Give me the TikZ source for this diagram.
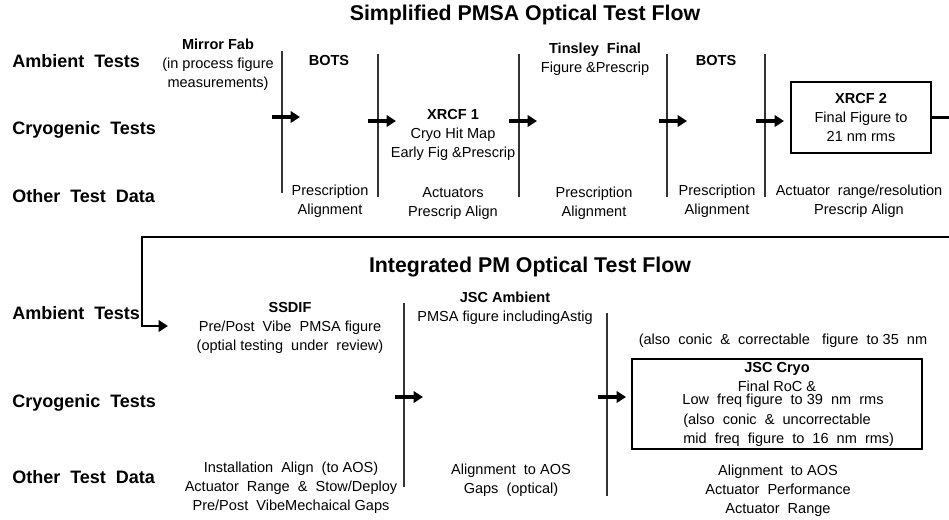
\documentclass[tikz,border=0pt]{standalone}
\usepackage{fontspec}
\setmainfont{Liberation Sans}
\usetikzlibrary{positioning, arrows.meta}

\tikzset{
  flowtitle/.style={inner sep=0pt, font=\fontsize{16}{19}\selectfont\bfseries},
  rowlabel/.style={anchor=west, inner sep=0pt, font=\fontsize{13.5}{16}\selectfont\bfseries},
  stepinfo/.style={align=center, inner sep=0pt, font=\fontsize{10.9}{14.2}\selectfont},
  divider/.style={black!80, line width=0.8pt},
  flowarrow/.style={-{Triangle[length=7pt,width=8.5pt]}, line width=2.9pt},
  wrapline/.style={flowarrow, line width=2.2pt},
  stagebox/.style={draw, line width=1.5pt, inner sep=0pt},
}

\begin{document}
\begin{tikzpicture}[x=0.75pt, y=-0.75pt]
\useasboundingbox (0,0) rectangle (949,519);

% simplified PMSA flow
\node[flowtitle] (title1) at (525,15) {Simplified PMSA Optical Test Flow};

\node[rowlabel] (amb1) at (12,61) {Ambient~~Tests};
\node[rowlabel] (cryo1) at (12,130) {Cryogenic~~Tests};
\node[rowlabel] (other1) at (12,196) {Other~~Test~~Data};

\draw[divider] (282,51) -- (282,193);
\draw[divider] (378,54) -- (378,197);
\draw[divider] (519,54) -- (519,197);
\draw[divider] (667,54) -- (667,197);
\draw[divider] (765,54) -- (765,197);

\node[stepinfo] (mirrorfab) at (218,65) {\textbf{Mirror Fab}\\(in process figure\\measurements)};
\node[stepinfo] (bots1) at (329,60) {\textbf{BOTS}};
\node[stepinfo] (xrcf1) at (453,135) {\textbf{XRCF 1}\\Cryo Hit Map\\Early Fig \&Prescrip};
\node[stepinfo] (tinsley) at (595,59.5) {\textbf{Tinsley~~Final}\\Figure \&Prescrip};
\node[stepinfo] (bots2) at (716,60) {\textbf{BOTS}};
\node[stagebox, stepinfo, minimum width=105pt, minimum height=53pt] (xrcf2) at (861,117.5)
  {\textbf{XRCF 2}\\Final Figure to\\21 nm rms};

\node[stepinfo] (presc1) at (330,201.5) {Prescription\\Alignment};
\node[stepinfo] (actuators) at (453,203.5) {Actuators\\Prescrip Align};
\node[stepinfo] (presc2) at (594,203) {Prescription\\Alignment};
\node[stepinfo] (presc3) at (717,201.5) {Prescription\\Alignment};
\node[stepinfo] (actrange) at (859,201.5) {Actuator~~range/resolution\\Prescrip Align};

\coordinate (a1s) at (272,117);
\coordinate (a1e) at (300,117);
\coordinate (a2s) at (368,121);
\coordinate (a2e) at (396,121);
\coordinate (a3s) at (509,121);
\coordinate (a3e) at (537,121);
\coordinate (a4s) at (659,121);
\coordinate (a4e) at (687,121);
\coordinate (a5s) at (756,121);
\coordinate (a5e) at (784,121);
\draw[flowarrow] (a1s) -- (a1e);
\draw[flowarrow] (a2s) -- (a2e);
\draw[flowarrow] (a3s) -- (a3e);
\draw[flowarrow] (a4s) -- (a4e);
\draw[flowarrow] (a5s) -- (a5e);

% link to the integrated flow
\coordinate (wrapR1) at (956,117.5);
\coordinate (wrapR2) at (956,237);
\coordinate (wrapL) at (142,237);
\coordinate (ssdifin) at (142,326);
\coordinate (ssdifend) at (168,326);
\draw[wrapline] (xrcf2.east) -- (wrapR1) -- (wrapR2) -- (wrapL) -- (ssdifin) -- (ssdifend);

% integrated PM flow
\node[flowtitle] (title2) at (530,267) {Integrated PM Optical Test Flow};

\node[rowlabel] (amb2) at (12,313) {Ambient~~Tests};
\node[rowlabel] (cryo2) at (12,403) {Cryogenic~~Tests};
\node[rowlabel] (other2) at (12,477) {Other~~Test~~Data};

\draw[divider] (404,303) -- (404,487);
\draw[divider] (607,313) -- (607,496);

\node[stepinfo] (ssdif) at (290,328) {\textbf{SSDIF}\\Pre/Post~~Vibe~~PMSA figure\\(optial testing~~under~~review)};
\node[stepinfo] (jscamb) at (505,308.5) {\textbf{JSC Ambient}\\PMSA figure includingAstig};
\node[stepinfo] (also35) at (783,341) {(also~~conic~~\&~~correctable~~~figure~~to 35~~nm};

\node[stagebox, minimum width=217.5pt, minimum height=67.5pt] (jsccryo) at (777,404) {};
\node[stepinfo] (cryohead) at (777,377) {\textbf{JSC Cryo}\\Final RoC \&};
\node[stepinfo] (lowfreq) at (783,401) {Low~~freq figure~~to 39~~nm~~rms};
\node[stepinfo, align=left, anchor=west] (cryonote) at (683,430.5) {(also~~conic~~\&~~uncorrectable\\mid~~freq~~figure~~to~~16~~nm~~rms)};

\node[stepinfo] (install) at (291,488) {Installation~~Align~~(to AOS)\\Actuator~~Range~~\&~~Stow/Deploy\\Pre/Post~~VibeMechaical Gaps};
\node[stepinfo] (alignaos) at (511,480.5) {Alignment~~to AOS\\Gaps~~(optical)};
\node[stepinfo] (alignperf) at (778,491) {Alignment~~to AOS\\Actuator~~Performance\\Actuator~~Range};

\coordinate (b1s) at (395,397);
\coordinate (b1e) at (423,397);
\coordinate (b2s) at (598,397);
\coordinate (b2e) at (626,397);
\draw[flowarrow] (b1s) -- (b1e);
\draw[flowarrow] (b2s) -- (b2e);
\end{tikzpicture}
\end{document}
